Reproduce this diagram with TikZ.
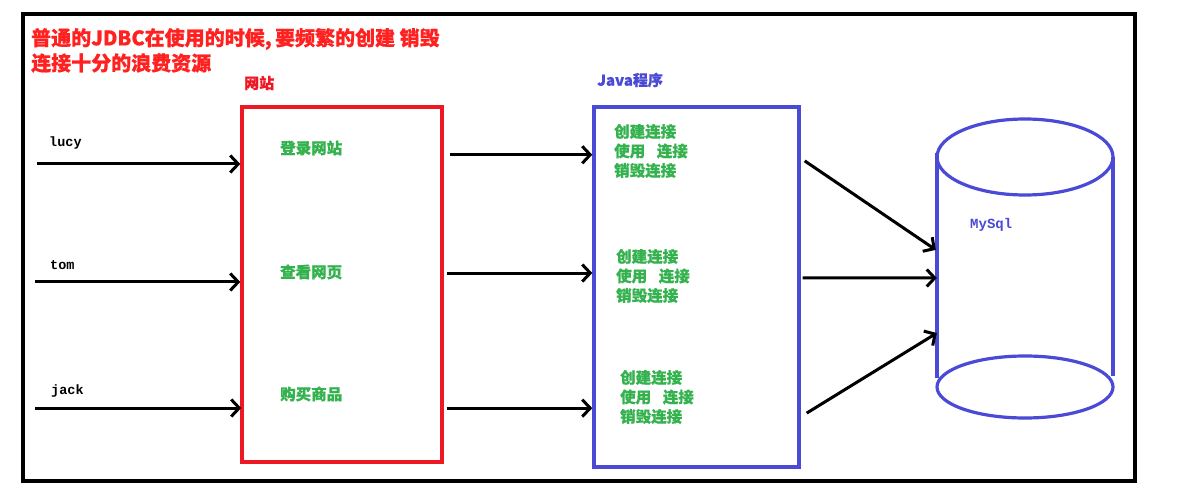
\documentclass[tikz,border=0pt]{standalone}
\usepackage{fontspec}
\setmainfont{Liberation Serif}
\newfontfamily\cjk{Noto Sans CJK SC}[FakeBold=0.6]
\newfontfamily\monob{Liberation Mono}
\usetikzlibrary{arrows.meta,calc}
\definecolor{tred}{RGB}{255,32,32}
\definecolor{bred}{RGB}{238,24,36}
\definecolor{jblue}{RGB}{74,74,214}
\definecolor{tgreen}{RGB}{52,178,78}
\begin{document}
\begin{tikzpicture}[x=1pt,y=-1pt,
  conn/.style={line width=3pt,-{Straight Barb[length=8pt,width=17pt]}},
  titletext/.style={anchor=west,inner sep=0pt,text=tred,font=\cjk\bfseries\fontsize{20}{24}\selectfont},
  lbl/.style={anchor=west,inner sep=0pt,font=\cjk\bfseries\fontsize{15}{18}\selectfont},
  user/.style={anchor=west,inner sep=0pt,font=\monob\bfseries\fontsize{13.5}{16}\selectfont},
  gtext/.style={anchor=west,inner sep=0pt,text=tgreen,align=left,font=\cjk\bfseries\fontsize{15.5}{19.5}\selectfont},
  webbox/.style={draw=bred,line width=3.4pt,minimum width=200pt,minimum height=355pt,inner sep=0pt},
  javabox/.style={draw=jblue,line width=3.4pt,minimum width=205pt,minimum height=360pt,inner sep=0pt},
  dbline/.style={draw=jblue,line width=3.2pt}]
\useasboundingbox (0,0) rectangle (1185,502);
\fill[white] (0,0) rectangle (1185,502);
% outer frame
\draw[line width=3.2pt] (23,14) rectangle (1135,481);
% title
\node[titletext] (t1) at (31,39) {普通的JDBC在使用的时候,\,要频繁的创建\ 销毁};
\node[titletext] (t2) at (31,63) {连接十分的浪费资源};
% boxes
\node[webbox] (web) at (342,284.5) {};
\node[javabox] (java) at (696.5,287) {};
\node[lbl,text=bred] (weblbl) at (244,83) {网站};
\node[lbl,text=jblue] (javalbl) at (597,80) {Java程序};
% database cylinder
\draw[dbline] (1025,157) ellipse (88pt and 38pt);
\draw[dbline] (1025,387) ellipse (88pt and 31pt);
\draw[dbline] (937,153) -- (937,378);
\draw[dbline] (1113,157) -- (1113,376);
\node[inner sep=0pt,minimum width=176pt,minimum height=230pt] (db) at (1025,272) {};
\node[anchor=west,inner sep=0pt,text=jblue,font=\monob\bfseries\fontsize{14}{16}\selectfont] (mysql) at (970,225) {MySql};
% users
\node[user] (lucy) at (49,143) {lucy};
\node[user] (tom) at (50,265) {tom};
\node[user] (jack) at (51,391) {jack};
\coordinate (lucys) at (37,164);
\coordinate (toms) at (35,282);
\coordinate (jacks) at (35,408);
\draw[conn] (lucys) -- (web.west |- lucys);
\draw[conn] (toms) -- (web.west |- toms);
\draw[conn] (jacks) -- ([xshift=1pt]web.west |- jacks);
% website actions
\node[gtext] (a1) at (280,148) {登录网站};
\node[gtext] (a2) at (280,272) {查看网页};
\node[gtext] (a3) at (280,394) {购买商品};
% java blocks
\node[gtext] (j1) at (614,151) {创建连接\\使用\hspace{0.75em}连接\\销毁连接};
\node[gtext] (j2) at (616,276) {创建连接\\使用\hspace{0.75em}连接\\销毁连接};
\node[gtext] (j3) at (620,397) {创建连接\\使用\hspace{0.75em}连接\\销毁连接};
% web -> java
\draw[conn] ([xshift=6pt]$(web.north east)!0.138!(web.south east)$) -- (java.west |- {$(web.north east)!0.138!(web.south east)$});
\draw[conn] ([xshift=3pt]$(web.north east)!0.468!(web.south east)$) -- (java.west |- {$(web.north east)!0.468!(web.south east)$});
\draw[conn] ([xshift=3pt]$(web.north east)!0.845!(web.south east)$) -- (java.west |- {$(web.north east)!0.845!(web.south east)$});
% java -> db
\draw[conn] ([xshift=4pt]$(java.north east)!0.153!(java.south east)$) -- ([xshift=-1pt]$(db.north west)!0.404!(db.south west)$);
\draw[conn] ([xshift=2pt]$(java.north east)!0.475!(java.south east)$) -- ($(db.north west)!0.526!(db.south west)$);
\draw[conn] ([xshift=6pt]$(java.north east)!0.847!(java.south east)$) -- ($(db.north west)!0.765!(db.south west)$);
\end{tikzpicture}
\end{document}
